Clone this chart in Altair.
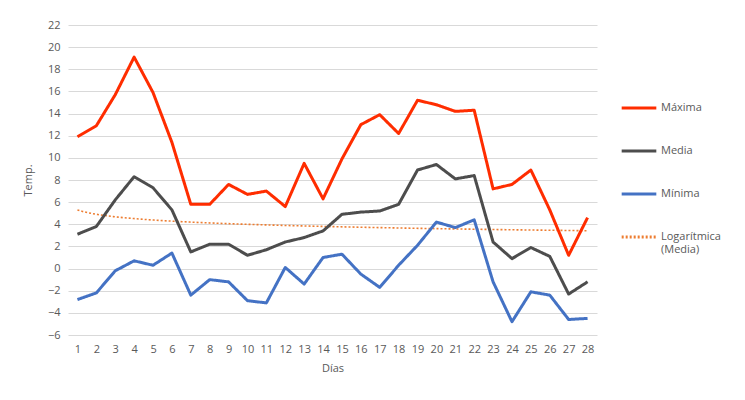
import altair as alt
import pandas as pd

dias = list(range(1, 29))
maxima = [11.9, 12.9, 15.7, 19.1, 15.9, 11.4, 5.8, 5.8, 7.6, 6.7, 7.0, 5.6, 9.5, 6.3,
          9.9, 13.0, 13.9, 12.2, 15.2, 14.8, 14.2, 14.3, 7.2, 7.6, 8.9, 5.3, 1.2, 4.6]
media = [3.1, 3.8, 6.2, 8.3, 7.3, 5.3, 1.5, 2.2, 2.2, 1.2, 1.7, 2.4, 2.8, 3.4,
         4.9, 5.1, 5.2, 5.8, 8.9, 9.4, 8.1, 8.4, 2.4, 0.9, 1.9, 1.1, -2.3, -1.2]
minima = [-2.8, -2.2, -0.2, 0.7, 0.3, 1.4, -2.4, -1.0, -1.2, -2.9, -3.1, 0.1, -1.4, 1.0,
          1.3, -0.5, -1.7, 0.3, 2.1, 4.2, 3.7, 4.4, -1.2, -4.8, -2.1, -2.4, -4.6, -4.5]

series_names = ["Máxima", "Media", "Mínima", "Logarítmica (Media)"]
series_colors = ["#FF2D00", "#4D4D4D", "#4472C4", "#ED7D31"]
y_ticks = list(range(-6, 23, 2))

rows = []
for name, vals in zip(series_names[:3], [maxima, media, minima]):
    for d, v in zip(dias, vals):
        rows.append({"dia": d, "temp": v, "serie": name})
df = pd.DataFrame(rows)

FONT = "Open Sans"
GRAY = "#595959"

color = alt.Color(
    "serie:N",
    scale=alt.Scale(domain=series_names, range=series_colors),
    legend=alt.Legend(
        title=None,
        orient="none",
        legendX=552,
        legendY=64,
        symbolType="stroke",
        symbolSize=1200,
        symbolStrokeWidth=3,
        rowPadding=18,
        labelFont=FONT,
        labelFontSize=11,
        labelColor=GRAY,
        labelOffset=3,
        labelExpr="datum.label == 'Logarítmica (Media)' ? ['Logarítmica', '(Media)'] : datum.label",
    ),
)
dash = alt.StrokeDash(
    "serie:N",
    scale=alt.Scale(domain=series_names, range=[[1, 0], [1, 0], [1, 0], [2, 2]]),
    legend=None,
)

x = alt.X(
    "dia:Q",
    scale=alt.Scale(domain=[0.5, 28.5], nice=False, zero=False),
    axis=alt.Axis(values=dias, title="Días", grid=False, domain=False, ticks=False,
                  labelFont=FONT, labelFontSize=11, labelColor=GRAY, labelPadding=8,
                  titleFont=FONT, titleFontSize=11, titleColor=GRAY, titleFontWeight="normal",
                  titlePadding=8, format="d"),
)
y = alt.Y(
    "temp:Q",
    scale=alt.Scale(domain=[-6, 22], nice=False),
    axis=alt.Axis(values=y_ticks, title="Temp.", grid=True, gridColor="#D9D9D9",
                  domain=False, ticks=False, labelFont=FONT, labelFontSize=11,
                  labelColor=GRAY, labelPadding=8, titleFont=FONT, titleFontSize=11,
                  titleColor=GRAY, titleFontWeight="normal", titlePadding=14),
)

lines = alt.Chart(df).mark_line(strokeWidth=3, strokeJoin="round").encode(
    x=x, y=y, color=color, strokeDash=dash, detail="serie:N"
)

trend = (
    alt.Chart(df)
    .transform_filter(alt.datum.serie == "Media")
    .transform_regression("dia", "temp", method="log", extent=[1, 28])
    .transform_calculate(serie="'Logarítmica (Media)'")
    .mark_line(strokeWidth=1.6)
    .encode(x=x, y=y, color=color, strokeDash=dash)
)

chart = (
    alt.layer(trend, lines)
    .properties(
        width=529,
        height=310,
        autosize=alt.AutoSizeParams(type="none"),
        padding={"left": 60, "top": 17, "right": 140, "bottom": 50},
        background="white",
    )
    .configure_view(stroke=None)
)

chart.save("out.html", embed_options={"renderer": "svg", "actions": False})
